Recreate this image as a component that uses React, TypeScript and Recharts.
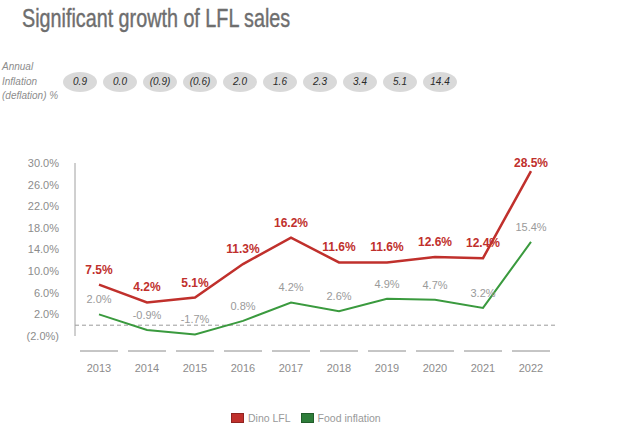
import React from 'react';
import { LineChart, Line, XAxis, YAxis, ReferenceLine, LabelList } from 'recharts';

const years = ['2013', '2014', '2015', '2016', '2017', '2018', '2019', '2020', '2021', '2022'];
const dinoLfl = [7.5, 4.2, 5.1, 11.3, 16.2, 11.6, 11.6, 12.6, 12.4, 28.5];
const foodInflation = [2.0, -0.9, -1.7, 0.8, 4.2, 2.6, 4.9, 4.7, 3.2, 15.4];
const annualInflation = ['0.9', '0.0', '(0.9)', '(0.6)', '2.0', '1.6', '2.3', '3.4', '5.1', '14.4'];
const yTicks = [-2, 2, 6, 10, 14, 18, 22, 26, 30];

const RED = '#c0302c';
const GREEN = '#3a9a3e';
const FONT = '"Liberation Sans", Arial, sans-serif';

const data = years.map((year, i) => ({ year, dino: dinoLfl[i], food: foodInflation[i] }));

const fmtY = (v: number) => (v < 0 ? `(${Math.abs(v).toFixed(1)}%)` : `${v.toFixed(1)}%`);

const XTick = (props: any) => {
  const { x, y, payload } = props;
  return (
    <g>
      <line x1={x - 19} x2={x + 19} y1={y + 15} y2={y + 15} stroke="#8c8c8c" strokeWidth={1} />
      <text x={x} y={y + 36} textAnchor="middle" fill="#8c8c8c" fontSize={11} fontFamily={FONT}>
        {payload.value}
      </text>
    </g>
  );
};

const makeLabel = (color: string, bold: boolean, size: number) => (props: any) => {
  const { x, y, value, index } = props;
  const last = index === years.length - 1 && bold;
  return (
    <text
      x={x}
      y={y - (last ? 4 : 11)}
      textAnchor="middle"
      fill={color}
      fontSize={size}
      fontWeight={bold ? 700 : 400}
      fontFamily={FONT}
    >
      {`${Number(value).toFixed(1)}%`}
    </text>
  );
};

export default function App() {
  return (
    <div style={{ position: 'absolute', left: 0, top: 0, width: 628, height: 441, background: '#fff', fontFamily: FONT }}>
      <div
        style={{
          position: 'absolute',
          left: 22,
          top: 4,
          fontSize: 25,
          lineHeight: '28px',
          color: '#6e6e6e',
          whiteSpace: 'nowrap',
          transform: 'scaleX(0.79)',
          transformOrigin: 'left top',
          WebkitTextStroke: '0.4px #6e6e6e',
        }}
      >
        Significant growth of LFL sales
      </div>
      <div
        style={{
          position: 'absolute',
          left: 2,
          top: 60,
          fontSize: 10,
          lineHeight: '14.5px',
          fontStyle: 'italic',
          color: '#8c8c8c',
        }}
      >
        Annual
        <br />
        Inflation
        <br />
        (deflation) %
      </div>
      {annualInflation.map((v, i) => (
        <div
          key={i}
          style={{
            position: 'absolute',
            left: 63 + i * 40,
            top: 72,
            width: 34,
            height: 20,
            borderRadius: '50%',
            background: '#d9d9d9',
            textAlign: 'center',
            lineHeight: '20px',
            fontSize: 10,
            fontStyle: 'italic',
            color: '#2a2a2a',
          }}
        >
          {v}
        </div>
      ))}
      <div style={{ position: 'absolute', left: 0, top: 0 }}>
        <LineChart width={628} height={441} data={data} margin={{ top: 163, right: 73, bottom: 65, left: 5 }}>
          <XAxis
            dataKey="year"
            axisLine={false}
            tickLine={false}
            tickSize={0}
            tickMargin={0}
            padding={{ left: 24, right: 24 }}
            height={40}
            tick={<XTick />}
            interval={0}
          />
          <YAxis
            domain={[-2, 30]}
            ticks={yTicks}
            tickFormatter={fmtY}
            axisLine={{ stroke: '#a0a0a0', strokeWidth: 1 }}
            tickLine={false}
            width={70}
            tick={{ fill: '#8c8c8c', fontSize: 11, fontFamily: FONT }}
            tickMargin={10}
            interval={0}
          />
          <ReferenceLine y={0} stroke="#9a9a9a" strokeDasharray="4 3" strokeWidth={1} />
          <Line
            type="linear"
            dataKey="food"
            name="Food inflation"
            stroke={GREEN}
            strokeWidth={2}
            dot={false}
            isAnimationActive={false}
          >
            <LabelList dataKey="food" content={makeLabel('#9a9a9a', false, 11)} />
          </Line>
          <Line
            type="linear"
            dataKey="dino"
            name="Dino LFL"
            stroke={RED}
            strokeWidth={2.5}
            dot={false}
            isAnimationActive={false}
          >
            <LabelList dataKey="dino" content={makeLabel(RED, true, 12)} />
          </Line>
        </LineChart>
      </div>
      <div
        style={{
          position: 'absolute',
          left: 231,
          top: 412,
          display: 'flex',
          alignItems: 'center',
          fontSize: 10.5,
          color: '#999',
          whiteSpace: 'nowrap',
        }}
      >
        {[
          { name: 'Dino LFL', color: RED },
          { name: 'Food inflation', color: '#2e7d3a' },
        ].map((s) => (
          <div key={s.name} style={{ display: 'flex', alignItems: 'center', marginRight: 10 }}>
            <span
              style={{
                display: 'inline-block',
                width: 11,
                height: 8,
                background: s.color,
                border: '1px solid rgba(0,0,0,0.25)',
                marginRight: 4,
              }}
            />
            <span>{s.name}</span>
          </div>
        ))}
      </div>
    </div>
  );
}
